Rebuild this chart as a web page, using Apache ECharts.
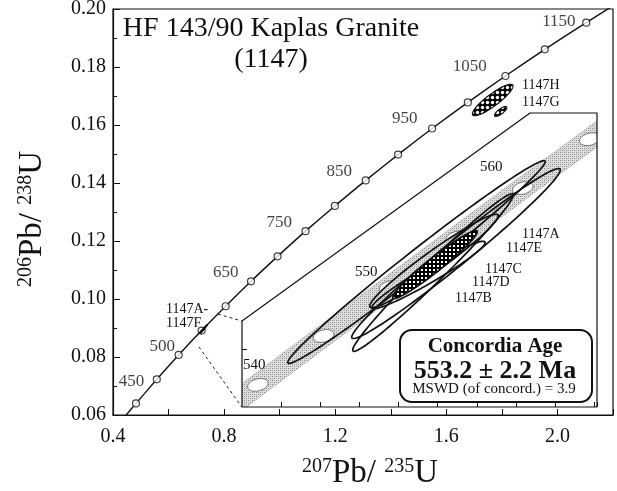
<!DOCTYPE html>
<html><head><meta charset="utf-8">
<script src="https://cdn.jsdelivr.net/npm/echarts@6/dist/echarts.min.js"></script>
<style>html,body{margin:0;padding:0;background:#fff}#c{width:617px;height:491px}</style>
</head><body><div id="c"></div>
<script>
// ---------------- DATA ----------------
// Concordia curve (age in Ma, 207Pb/235U, 206Pb/238U)
const concordiaAges = [375, 400, 450, 500, 550, 600, 650, 700, 750, 800, 850, 900, 950, 1000, 1050, 1100, 1150, 1180];
const concordiaR207 = [0.4468, 0.4828, 0.5577, 0.6363, 0.7189, 0.8056, 0.8968, 0.9925, 1.0931, 1.1987, 1.3097, 1.4263, 1.5488, 1.6774, 1.8126, 1.9545, 2.1036, 2.1967];
const concordiaR206 = [0.0599, 0.0640, 0.0723, 0.0807, 0.0891, 0.0975, 0.1061, 0.1147, 0.1234, 0.1321, 0.1409, 0.1498, 0.1588, 0.1678, 0.1769, 0.1861, 0.1953, 0.2009];
const markerAges = [400, 450, 500, 550, 600, 650, 700, 750, 800, 850, 900, 950, 1000, 1050, 1100, 1150];
const labeledAges = [450, 500, 650, 750, 850, 950, 1050, 1150];

// Axis tick labels
const xTickLabels = ['0.4', '0.8', '1.2', '1.6', '2.0'];
const yTickLabels = ['0.06', '0.08', '0.10', '0.12', '0.14', '0.16', '0.18', '0.20'];

// Inset: concordia segment with 5 Ma markers
const insetAges = [535, 540, 545, 550, 555, 560, 565, 570];
const insetR207 = [0.69367, 0.70203, 0.71043, 0.71887, 0.72736, 0.73588, 0.74445, 0.75306];
const insetR206 = [0.08653, 0.08738, 0.08822, 0.08906, 0.08991, 0.09076, 0.09160, 0.09245];
const insetLabeledAges = [540, 550, 560];
const bandHalfWidth = 0.0023;   // decay-constant band half width in 207Pb/235U
const insetXRange = [0.700, 0.74536];
const insetYRange = [0.087, 0.09205];
const insetYTicks = [0.088];

// Concordant zircon fractions 1147A-1147F (centre, 2 sigma errors, rho)
const sampleNames = ['1147A', '1147B', '1147C', '1147D', '1147E', '1147F'];
const sampleR207 = [0.727345, 0.722297, 0.724406, 0.724534, 0.723831, 0.724662];
const sampleR206 = [0.089636, 0.089490, 0.089310, 0.089508, 0.089267, 0.089447];
const sampleSx = [0.013324, 0.016443, 0.010261, 0.008213, 0.007236, 0.005397];
const sampleSy = [0.0014602, 0.0017410, 0.0013535, 0.0008023, 0.0005788, 0.0005832];
const sampleRho = [0.983, 0.990, 0.984, 0.965, 0.962, 0.965];

// Older fractions 1147H, 1147G
const oldNames = ['1147H', '1147G'];
const oldR207 = [1.7669, 1.7957];
const oldR206 = [0.16862, 0.16466];
const oldSx = [0.0731, 0.0222];
const oldSy = [0.00543, 0.0017];
const oldRho = [0.884, 0.79];

// ---------------- STYLE / LAYOUT ----------------
const SERIF = '"Liberation Serif", "DejaVu Serif", serif';
const INK = '#111';
function pattern(size, painter) {
  const c = document.createElement('canvas'); c.width = size; c.height = size;
  painter(c.getContext('2d'), size); return { image: c, repeat: 'repeat' };
}
const stipple = pattern(4, g => { g.fillStyle = '#dedede'; g.fillRect(0,0,4,4); g.fillStyle = '#858585'; g.fillRect(0,0,1,1); g.fillRect(2,2,1,1); g.fillStyle = '#b0b0b0'; g.fillRect(2,0,1,1); g.fillRect(0,2,1,1); });
const dots = pattern(4, g => { g.fillStyle = '#000'; g.fillRect(0,0,4,4); g.fillStyle = '#fff'; g.fillRect(1,1,2,2); });
const bigDots = pattern(5, g => { g.fillStyle = '#000'; g.fillRect(0,0,5,5); g.fillStyle = '#fff'; g.beginPath(); g.arc(2.5,2.5,1.7,0,Math.PI*2); g.fill(); });

const sampleLook = { '1147D': { fill: stipple, z2: 1 }, '1147F': { fill: dots, z2: 3 } };
const labelOffsets = { 450: [-8.5, 2], 500: [0.5, -8], 650: [-8.5, -9], 750: [-9.5, -9], 850: [-9.5, -9], 950: [-10.5, -9.5], 1050: [-14.5, -9], 1150: [-6.5, -1.5] };

function ellipsePoints(api, cx, cy, sx, sy, r) {
  const q = Math.sqrt(Math.max(0, 1 - r * r)); const pts = [];
  for (let k = 0; k < 120; k++) {
    const t = 2 * Math.PI * k / 120;
    pts.push(api.coord([cx + sx * Math.cos(t), cy + sy * (r * Math.cos(t) + q * Math.sin(t))]));
  }
  return pts;
}
function ellipseSeries(names, xs, ys, sxs, sys, rhos, xi, yi, lookFn, lw, clip) {
  return {
    type: 'custom', xAxisIndex: xi, yAxisIndex: yi, clip: clip, z: 4,
    data: xs.map((x, i) => [x, ys[i], sxs[i], sys[i], rhos[i]]),
    encode: { x: 0, y: 1 },
    renderItem: (params, api) => {
      const look = lookFn(names[params.dataIndex]);
      return { type: 'polygon', z2: look.z2,
        shape: { points: ellipsePoints(api, api.value(0), api.value(1), api.value(2), api.value(3), api.value(4)) },
        style: { fill: look.fill, stroke: INK, lineWidth: lw } };
    }
  };
}

const markerData = markerAges.map(a => {
  const i = concordiaAges.indexOf(a);
  const lab = labeledAges.indexOf(a) >= 0;
  return { value: [concordiaR207[i], concordiaR206[i]],
    label: { show: lab, formatter: String(a), position: 'left', distance: 0, offset: labelOffsets[a] || [0,0],
      fontFamily: SERIF, fontSize: 17, color: INK } };
});

const richName = {
  big: { fontFamily: SERIF, fontSize: 33, color: INK },
  sup: { fontFamily: SERIF, fontSize: 20, color: INK, verticalAlign: 'top' }
};

function txt(text, x, y, size, align, bold) {
  return { type: 'text', x: x, y: y, z: 100,
    style: { text: text, font: (bold ? 'bold ' : '') + size + 'px ' + SERIF, fill: INK, align: align || 'left', verticalAlign: 'middle' } };
}

const option = {
  animation: false,
  backgroundColor: '#fff',
  grid: [
    { left: 113, right: 4, top: 9, bottom: 76, show: true, borderColor: INK, borderWidth: 1.2, backgroundColor: 'transparent', outerBoundsMode: 'none', containLabel: false },
    { left: 242, top: 113, width: 355, height: 294, show: false, outerBoundsMode: 'none', containLabel: false }
  ],
  xAxis: [
    { type: 'value', gridIndex: 0, min: 0.4, max: 2.2, interval: 0.2,
      axisLine: { show: true, lineStyle: { color: INK, width: 1.2 } },
      axisTick: { show: true, inside: true, length: 6, lineStyle: { color: INK } },
      axisLabel: { customValues: xTickLabels.map(Number), formatter: v => v.toFixed(1), margin: 12, fontFamily: SERIF, fontSize: 20, color: INK },
      splitLine: { show: false },
      name: '{sup|207}{big|Pb/ }{sup|235}{big|U}', nameLocation: 'middle', nameGap: 42,
      nameTextStyle: { rich: richName, padding: [0, 0, 0, 14] } },
    { type: 'value', gridIndex: 1, min: insetXRange[0], max: insetXRange[1], interval: 0.005,
      axisLine: { show: false }, axisTick: { show: true, inside: true, length: 5, lineStyle: { color: INK } },
      axisLabel: { show: false }, splitLine: { show: false } }
  ],
  yAxis: [
    { type: 'value', gridIndex: 0, min: 0.06, max: 0.20, interval: 0.02,
      axisLine: { show: true, lineStyle: { color: INK, width: 1.2 } },
      axisTick: { show: true, inside: true, length: 7, lineStyle: { color: INK } },
      minorTick: { show: true, splitNumber: 2, length: 4, lineStyle: { color: INK } },
      axisLabel: { customValues: yTickLabels.map(Number), formatter: v => v.toFixed(2), margin: 7, fontFamily: SERIF, fontSize: 20, color: INK },
      splitLine: { show: false }, minorSplitLine: { show: false },
      name: '{sup|206}{big|Pb/ }{sup|238}{big|U}', nameLocation: 'middle', nameRotate: 90, nameGap: 64,
      nameTextStyle: { rich: richName, padding: [0, 14, 0, 0] } },
    { type: 'value', gridIndex: 1, min: insetYRange[0], max: insetYRange[1],
      axisLine: { show: false }, axisTick: { show: true, inside: true, length: 5, customValues: insetYTicks, lineStyle: { color: INK } },
      axisLabel: { show: false }, splitLine: { show: false } }
  ],
  series: [
    { type: 'line', xAxisIndex: 0, yAxisIndex: 0, smooth: 0.2, symbol: 'none', z: 2,
      data: concordiaR207.map((x, i) => [x, concordiaR206[i]]),
      lineStyle: { color: INK, width: 1.4 } },
    { type: 'scatter', xAxisIndex: 0, yAxisIndex: 0, symbol: 'circle', symbolSize: 7, z: 3,
      data: markerData, itemStyle: { color: '#fff', borderColor: INK, borderWidth: 1.2 } },
    { type: 'line', xAxisIndex: 0, yAxisIndex: 0, symbol: 'none', z: 2, clip: false,
      data: [[0.7777, 0.0948], [0.864, 0.0924]], lineStyle: { color: '#222', width: 1, type: [3, 3] } },
    { type: 'line', xAxisIndex: 0, yAxisIndex: 0, symbol: 'none', z: 2, clip: false,
      data: [[0.7094, 0.08345], [0.864, 0.06276]], lineStyle: { color: '#222', width: 1, type: [3, 3] } },
    ellipseSeries(sampleNames, sampleR207, sampleR206, sampleSx, sampleSy, sampleRho, 0, 0,
      n => ({ fill: '#000', z2: 1 }), 0.8, false),
    ellipseSeries(oldNames, oldR207, oldR206, oldSx, oldSy, oldRho, 0, 0,
      n => ({ fill: bigDots, z2: 1 }), 1.2, false),
    // inset: decay constant band
    { type: 'custom', xAxisIndex: 1, yAxisIndex: 1, clip: true, z: 1,
      data: insetR207.map((x, i) => [x, insetR206[i]]), encode: { x: 0, y: 1 },
      renderItem: (params, api) => {
        if (params.dataIndex !== 0) return null;
        const up = insetR207.map((x, i) => api.coord([x - bandHalfWidth, insetR206[i]]));
        const lo = insetR207.map((x, i) => api.coord([x + bandHalfWidth, insetR206[i]])).reverse();
        return { type: 'polygon', shape: { points: up.concat(lo) }, style: { fill: stipple, stroke: '#999', lineWidth: 0.4 } };
      } },
    // inset: age markers
    { type: 'custom', xAxisIndex: 1, yAxisIndex: 1, clip: true, z: 2,
      data: insetR207.map((x, i) => [x, insetR206[i]]), encode: { x: 0, y: 1 },
      renderItem: (params, api) => {
        const p = api.coord([api.value(0), api.value(1)]);
        const phi = 15 * Math.PI / 180, pts = [];
        for (let k = 0; k < 48; k++) {
          const t = 2 * Math.PI * k / 48, ex = 10.5 * Math.cos(t), ey = 6 * Math.sin(t);
          pts.push([p[0] + ex * Math.cos(phi) + ey * Math.sin(phi), p[1] - ex * Math.sin(phi) + ey * Math.cos(phi)]);
        }
        return { type: 'polygon', shape: { points: pts }, style: { fill: '#fff', stroke: '#555', lineWidth: 0.8 } };
      } },
    ellipseSeries(sampleNames, sampleR207, sampleR206, sampleSx, sampleSy, sampleRho, 1, 1,
      n => (sampleLook[n] || { fill: 'none', z2: 2 }), 1.7, true),
    // inset frame
    { type: 'line', xAxisIndex: 1, yAxisIndex: 1, symbol: 'none', clip: false, z: 5,
      data: [[insetXRange[0], 0.088477], [0.7368, insetYRange[1]], [insetXRange[1], insetYRange[1]],
             [insetXRange[1], insetYRange[0]], [insetXRange[0], insetYRange[0]], [insetXRange[0], 0.088477]],
      lineStyle: { color: INK, width: 1.2 } }
  ],
  graphic: [
    txt('HF 143/90 Kaplas Granite', 271, 29, 28, 'center'),
    txt('(1147)', 271, 60, 28, 'center'),
    txt('1147H', 522, 85, 14), txt('1147G', 522, 102, 14),
    txt('1147A-', 166, 309, 14), txt('1147F', 166, 323, 14),
    txt('1147A', 522, 234, 14), txt('1147E', 506, 248, 14), txt('1147C', 485, 269, 14),
    txt('1147D', 472, 282, 14), txt('1147B', 455, 298, 14),
    txt(String(insetLabeledAges[0]), 243, 365, 15), txt(String(insetLabeledAges[1]), 355, 272, 15), txt(String(insetLabeledAges[2]), 480, 167, 15),
    { type: 'rect', z: 90, shape: { x: 400, y: 330, width: 192, height: 72, r: 12 }, style: { fill: '#fff', stroke: INK, lineWidth: 2 } },
    txt('Concordia Age', 495, 347, 21, 'center', true),
    txt('553.2 \u00b1 2.2 Ma', 495, 371, 26, 'center', true),
    txt('MSWD (of concord.) = 3.9', 494, 389, 15, 'center')
  ]
};
const chart = echarts.init(document.getElementById('c'), null, { renderer: 'canvas', width: 617, height: 491 });
chart.setOption(option);
</script></body></html>
